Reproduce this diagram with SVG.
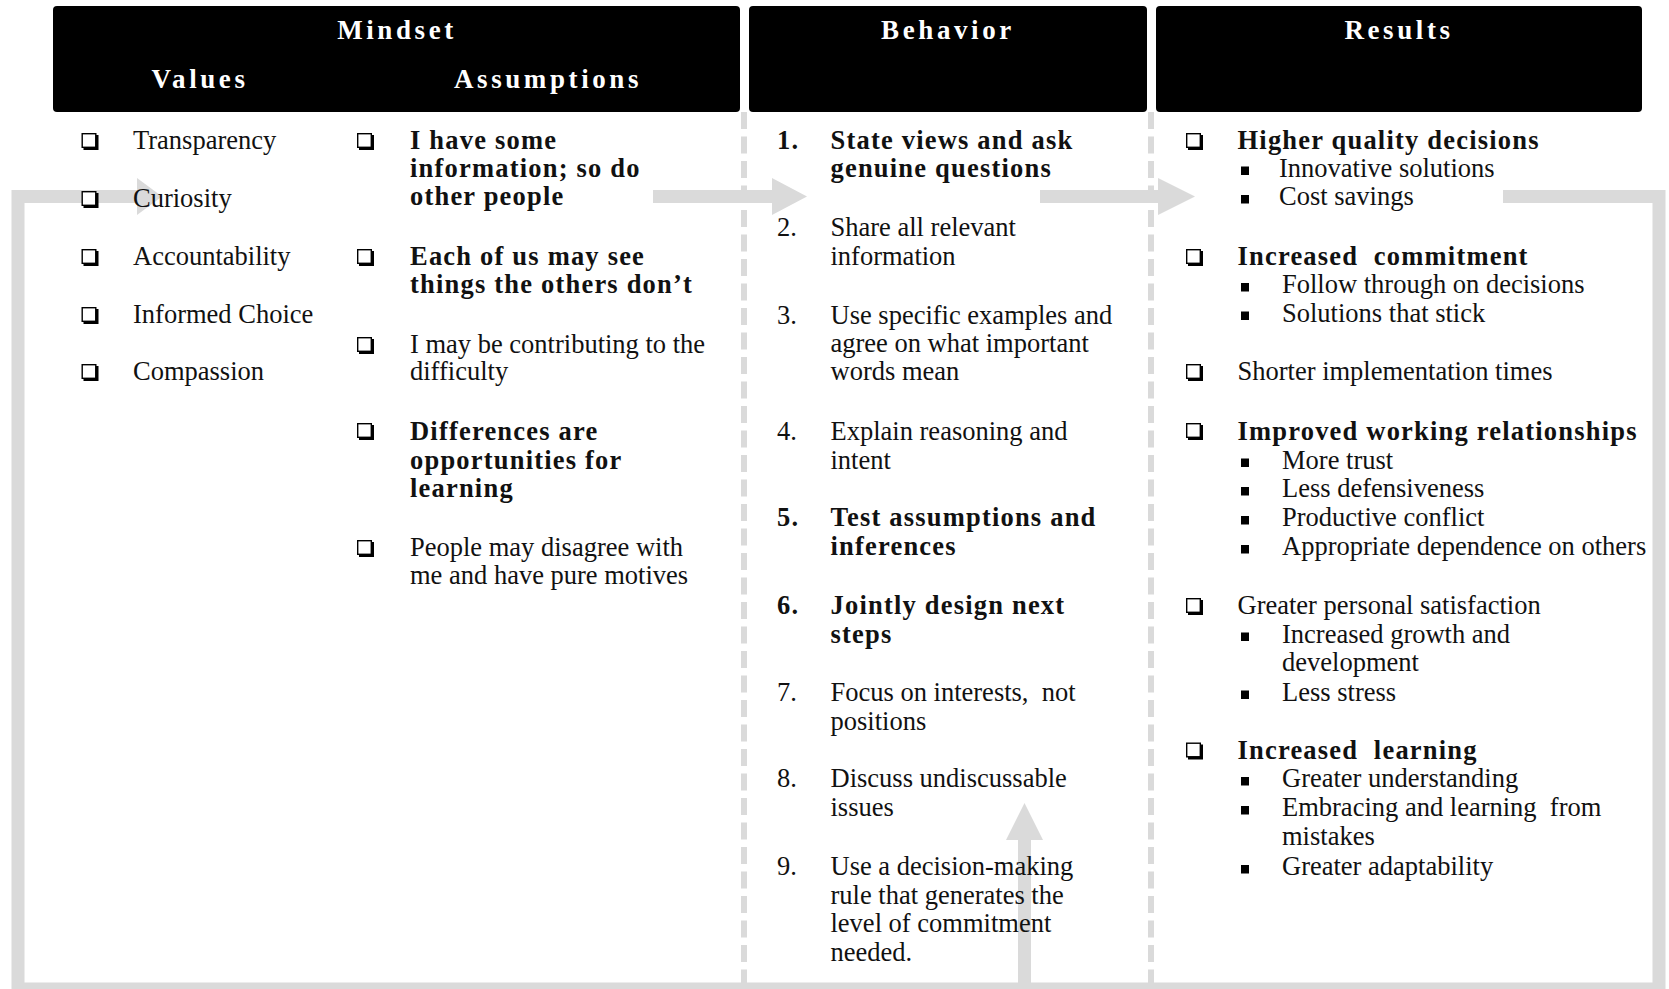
<svg xmlns="http://www.w3.org/2000/svg" xmlns:xlink="http://www.w3.org/1999/xlink" width="1669" height="989" viewBox="0 0 1669 989">
<style>
.t{font-family:"Liberation Serif","Times New Roman",serif;font-size:26.5px;fill:#111}
.b{font-weight:bold;letter-spacing:1.2px}
.h{font-family:"Liberation Serif","Times New Roman",serif;font-weight:bold;font-size:27px;fill:#fff;letter-spacing:3.6px;text-anchor:middle}
.hdr{fill:#000}
.gr{fill:#dadada}
.loop{fill:none;stroke:#dadada;stroke-width:13;stroke-linejoin:miter}
.dash{fill:none;stroke:#dadada;stroke-width:6;stroke-dasharray:17 7.5}
</style>
<defs>
<g id="cb"><rect x="0.7" y="0.7" width="13.6" height="13.6" fill="#fff" stroke="#000" stroke-width="1.4"/><polygon points="2,14 14,14 14,2 17,2 17,17 2,17" fill="#000"/></g>
<rect id="sq" width="8" height="8.5" fill="#000"/>
</defs>
<rect width="1669" height="989" fill="#fff"/>

<g id="connectors">
<path class="loop" d="M1503 196.5 H1659 V989 H18 V196.5 H138"/>
<polygon class="gr" points="137,178 162,196.5 137,215"/>
<polygon class="gr" points="653,190 772,190 772,178 807,196.5 772,215 772,203 653,203"/>
<polygon class="gr" points="1040,190 1158,190 1158,178 1195,196.5 1158,215 1158,203 1040,203"/>
<polygon class="gr" points="1018,989 1018,840 1006,840 1024.5,803 1043,840 1031,840 1031,989"/>
<line class="dash" x1="744" y1="112" x2="744" y2="989"/>
<line class="dash" x1="1151" y1="112" x2="1151" y2="989"/>
</g>

<g id="mindset-header">
<rect class="hdr" x="53" y="6" width="687" height="106" rx="4"/>
<text class="h" x="397" y="39">Mindset</text>
<text class="h" x="200" y="88">Values</text>
<text class="h" x="548" y="88">Assumptions</text>
</g>
<g id="behavior-header">
<rect class="hdr" x="749" y="6" width="398" height="106" rx="4"/>
<text class="h" x="948" y="39">Behavior</text>
</g>
<g id="results-header">
<rect class="hdr" x="1156" y="6" width="486" height="106" rx="4"/>
<text class="h" x="1399" y="39">Results</text>
</g>

<g id="values">
<use xlink:href="#cb" x="81.5" y="133"/><text class="t" x="133" y="149">Transparency</text>
<use xlink:href="#cb" x="81.5" y="191"/><text class="t" x="133" y="207">Curiosity</text>
<use xlink:href="#cb" x="81.5" y="249"/><text class="t" x="133" y="265">Accountability</text>
<use xlink:href="#cb" x="81.5" y="307"/><text class="t" x="133" y="323">Informed Choice</text>
<use xlink:href="#cb" x="81.5" y="364"/><text class="t" x="133" y="380">Compassion</text>
</g>

<g id="assumptions">
<use xlink:href="#cb" x="357" y="133"/>
<text class="t b"><tspan x="410" y="149">I have some</tspan><tspan x="410" y="177">information; so do</tspan><tspan x="410" y="204.5">other people</tspan></text>
<use xlink:href="#cb" x="357" y="249"/>
<text class="t b"><tspan x="410" y="265">Each of us may see</tspan><tspan x="410" y="293">things the others don’t</tspan></text>
<use xlink:href="#cb" x="357" y="337"/>
<text class="t"><tspan x="410" y="352.5">I may be contributing to the</tspan><tspan x="410" y="380">difficulty</tspan></text>
<use xlink:href="#cb" x="357" y="423"/>
<text class="t b"><tspan x="410" y="439.5">Differences are</tspan><tspan x="410" y="468.5">opportunities for</tspan><tspan x="410" y="497">learning</tspan></text>
<use xlink:href="#cb" x="357" y="540"/>
<text class="t"><tspan x="410" y="556">People may disagree with</tspan><tspan x="410" y="584">me and have pure motives</tspan></text>
</g>

<g id="behaviors">
<text class="t b" x="777" y="149">1.</text>
<text class="t b"><tspan x="830.5" y="149">State views and ask</tspan><tspan x="830.5" y="177">genuine questions</tspan></text>
<text class="t" x="777" y="236">2.</text>
<text class="t"><tspan x="830.5" y="236">Share all relevant</tspan><tspan x="830.5" y="265">information</tspan></text>
<text class="t" x="777" y="323.5">3.</text>
<text class="t"><tspan x="830.5" y="323.5">Use specific examples and</tspan><tspan x="830.5" y="351.5">agree on what important</tspan><tspan x="830.5" y="380">words mean</tspan></text>
<text class="t" x="777" y="439.5">4.</text>
<text class="t"><tspan x="830.5" y="439.5">Explain reasoning and</tspan><tspan x="830.5" y="468.5">intent</tspan></text>
<text class="t b" x="777" y="526">5.</text>
<text class="t b"><tspan x="830.5" y="526">Test assumptions and</tspan><tspan x="830.5" y="555">inferences</tspan></text>
<text class="t b" x="777" y="614">6.</text>
<text class="t b"><tspan x="830.5" y="614">Jointly design next</tspan><tspan x="830.5" y="642.5">steps</tspan></text>
<text class="t" x="777" y="700.5">7.</text>
<text class="t" xml:space="preserve"><tspan x="830.5" y="700.5">Focus on interests,  not</tspan><tspan x="830.5" y="730">positions</tspan></text>
<text class="t" x="777" y="787">8.</text>
<text class="t"><tspan x="830.5" y="787">Discuss undiscussable</tspan><tspan x="830.5" y="816">issues</tspan></text>
<text class="t" x="777" y="875">9.</text>
<text class="t"><tspan x="830.5" y="875">Use a decision-making</tspan><tspan x="830.5" y="903.5">rule that generates the</tspan><tspan x="830.5" y="931.5">level of commitment</tspan><tspan x="830.5" y="960.5">needed.</tspan></text>
</g>

<g id="results">
<use xlink:href="#cb" x="1186" y="133"/>
<text class="t b" x="1237.5" y="148.5">Higher quality decisions</text>
<use xlink:href="#sq" x="1241" y="166.5"/><text class="t" x="1279" y="176.5">Innovative solutions</text>
<use xlink:href="#sq" x="1241" y="195"/><text class="t" x="1279" y="205">Cost savings</text>
<use xlink:href="#cb" x="1186" y="249"/>
<text class="t b" x="1237.5" y="265" xml:space="preserve">Increased  commitment</text>
<use xlink:href="#sq" x="1241" y="283"/><text class="t" x="1282" y="293">Follow through on decisions</text>
<use xlink:href="#sq" x="1241" y="311.5"/><text class="t" x="1282" y="321.5">Solutions that stick</text>
<use xlink:href="#cb" x="1186" y="364"/>
<text class="t" x="1237.5" y="380">Shorter implementation times</text>
<use xlink:href="#cb" x="1186" y="423"/>
<text class="t b" x="1237.5" y="439.5">Improved working relationships</text>
<use xlink:href="#sq" x="1241" y="458.5"/><text class="t" x="1282" y="468.5">More trust</text>
<use xlink:href="#sq" x="1241" y="487"/><text class="t" x="1282" y="497">Less defensiveness</text>
<use xlink:href="#sq" x="1241" y="516"/><text class="t" x="1282" y="526">Productive conflict</text>
<use xlink:href="#sq" x="1241" y="545"/><text class="t" x="1282" y="555">Appropriate dependence on others</text>
<use xlink:href="#cb" x="1186" y="598"/>
<text class="t" x="1237.5" y="614">Greater personal satisfaction</text>
<use xlink:href="#sq" x="1241" y="632.5"/><text class="t"><tspan x="1282" y="642.5">Increased growth and</tspan><tspan x="1282" y="670.5">development</tspan></text>
<use xlink:href="#sq" x="1241" y="690.5"/><text class="t" x="1282" y="700.5">Less stress</text>
<use xlink:href="#cb" x="1186" y="742.5"/>
<text class="t b" x="1237.5" y="758.5" xml:space="preserve">Increased  learning</text>
<use xlink:href="#sq" x="1241" y="777"/><text class="t" x="1282" y="787">Greater understanding</text>
<use xlink:href="#sq" x="1241" y="806"/><text class="t" xml:space="preserve"><tspan x="1282" y="816">Embracing and learning  from</tspan><tspan x="1282" y="845">mistakes</tspan></text>
<use xlink:href="#sq" x="1241" y="865"/><text class="t" x="1282" y="875">Greater adaptability</text>
</g>
</svg>
